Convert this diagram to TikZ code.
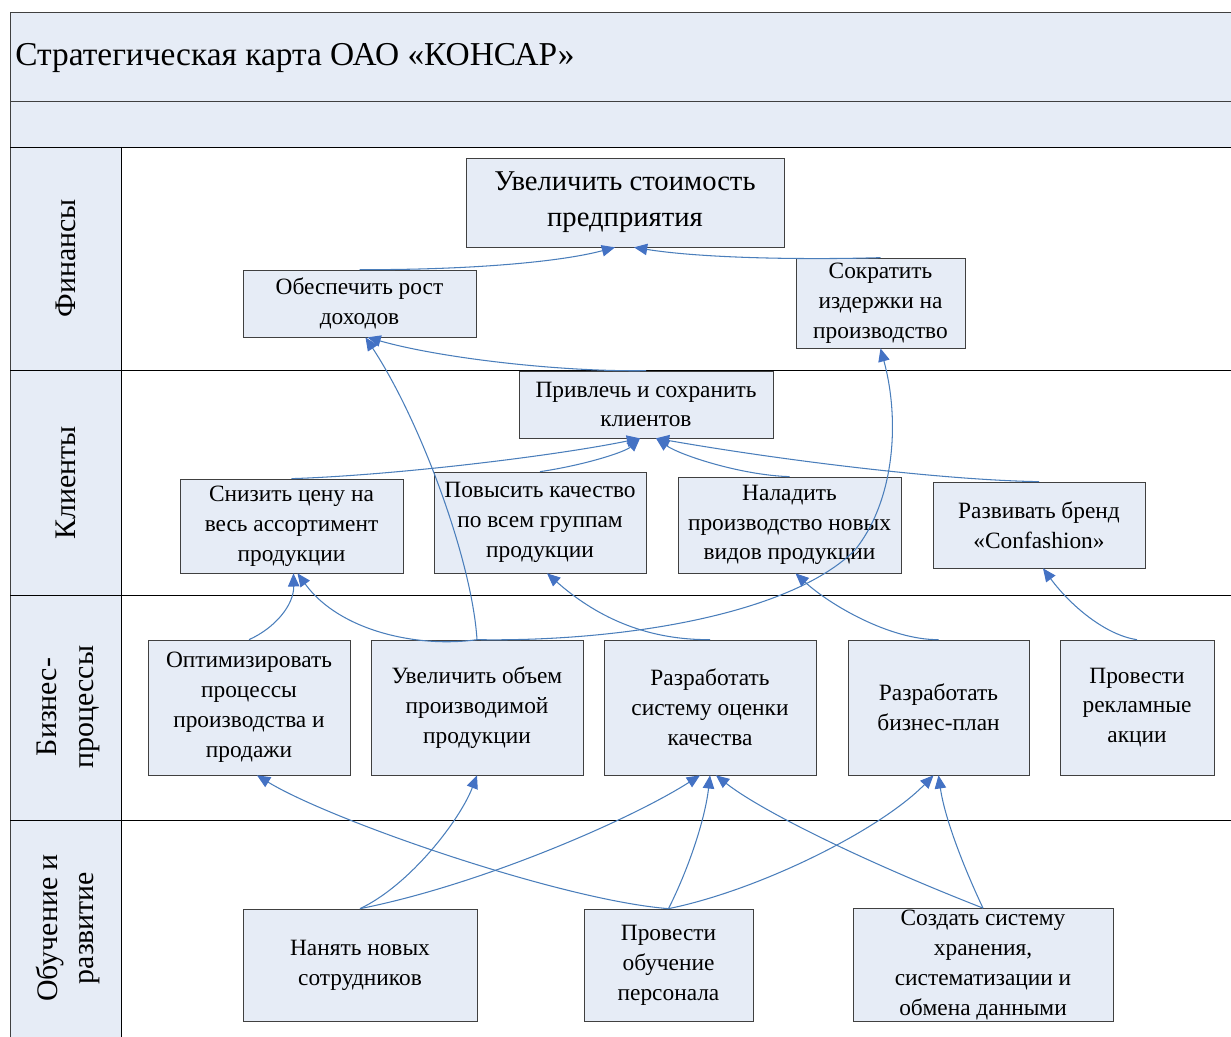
\documentclass[tikz,border=0pt]{standalone}
\usepackage{fontspec}
\setmainfont{Liberation Serif}
\usetikzlibrary{arrows.meta}

\definecolor{pale}{HTML}{E6ECF6}
\definecolor{lnblue}{HTML}{4A7EBB}
\definecolor{tipblue}{HTML}{4472C4}

\begin{document}
\begin{tikzpicture}[x=0.02cm, y=-0.02cm,
goal/.style={draw=black!75, fill=pale, align=center, inner sep=1pt, font=\fontsize{13.3}{17}\selectfont},
lane/.style={rotate=90, align=center, font=\fontsize{17}{21}\selectfont},
lnk/.style={draw=lnblue, line width=0.6pt, -{Triangle[length=7.5pt,width=6.5pt,color=tipblue]}}]
	\useasboundingbox (0,0) rectangle (1231,1037);

	% frame and lanes
	\fill[pale] (10,12) rectangle (1231,147);
	\fill[pale] (10,147) rectangle (121,1037);
	\draw[black!75] (10,1037) -- (10,12) -- (1231,12);
	\draw[black!75] (10,101) -- (1231,101);
	\draw (10,147) -- (1231,147);
	\draw (10,370) -- (1231,370);
	\draw (10,595) -- (1231,595);
	\draw (10,820) -- (1231,820);
	\draw (121,147) -- (121,1037);

	\node[anchor=west, inner sep=0, font=\fontsize{19}{23}\selectfont] (ttl) at (15,58) {Стратегическая карта ОАО «КОНСАР»};
	\node[lane] (fin) at (66,258) {Финансы};
	\node[lane] (kli) at (66,483) {Клиенты};
	\node[lane] (bp) at (68,707) {Бизнес-\\процессы};
	\node[lane] (ob) at (68,928) {Обучение и\\развитие};

	% finance
	\node[goal, minimum width=6.36cm, minimum height=1.78cm, font=\fontsize{16.3}{20.5}\selectfont] (val) at (625,202.5) {Увеличить стоимость\\предприятия};
	\node[goal, minimum width=4.66cm, minimum height=1.34cm] (inc) at (359.5,303.5) {Обеспечить рост\\доходов};
	\node[goal, minimum width=3.38cm, minimum height=1.8cm] (cost) at (880.5,303) {Сократить\\издержки на\\производство};

	% clients
	\node[goal, minimum width=5.08cm, minimum height=1.34cm] (cli) at (646,404.5) {Привлечь и сохранить\\клиентов};
	\node[goal, minimum width=4.46cm, minimum height=1.88cm] (price) at (291.5,526) {Снизить цену на\\весь ассортимент\\продукции};
	\node[goal, minimum width=4.24cm, minimum height=2.02cm] (qual) at (540,522.5) {Повысить качество\\по всем группам\\продукции};
	\node[goal, minimum width=4.46cm, minimum height=1.92cm] (newp) at (789.5,525) {Наладить\\производство новых\\видов продукции};
	\node[goal, minimum width=4.24cm, minimum height=1.72cm] (brand) at (1039,525) {Развивать бренд\\«Confashion»};

	% processes
	\node[goal, minimum width=4.04cm, minimum height=2.7cm] (opt) at (249,707.5) {Оптимизировать\\процессы\\производства и\\продажи};
	\node[goal, minimum width=4.24cm, minimum height=2.7cm] (vol) at (477,707.5) {Увеличить объем\\производимой\\продукции};
	\node[goal, minimum width=4.24cm, minimum height=2.7cm] (qsys) at (710,707.5) {Разработать\\систему оценки\\качества};
	\node[goal, minimum width=3.62cm, minimum height=2.7cm] (plan) at (938.5,707.5) {Разработать\\бизнес-план};
	\node[goal, minimum width=3.08cm, minimum height=2.7cm] (adv) at (1137,707.5) {Провести\\рекламные\\акции};

	% learning
	\node[goal, minimum width=4.68cm, minimum height=2.24cm] (hire) at (360,965) {Нанять новых\\сотрудников};
	\node[goal, minimum width=3.38cm, minimum height=2.24cm] (train) at (668.5,965) {Провести\\обучение\\персонала};
	\node[goal, minimum width=5.2cm, minimum height=2.24cm] (data) at (983,965) {Создать систему\\хранения,\\систематизации и\\обмена данными};

	% links
	\draw[lnk] (inc.north) .. controls (470,270) and (560,262) .. ([xshift=-0.2cm]val.south);
	\draw[lnk] (cost.north) .. controls (800,260) and (700,258) .. ([xshift=0.18cm]val.south);
	\draw[lnk] (cli.north) .. controls (560,372) and (440,358) .. ([xshift=0.16cm]inc.south);
	\draw[lnk] (vol.north) .. controls (472,560) and (420,420) .. ([xshift=0.12cm]inc.south);
	\draw[lnk] (vol.north) .. controls (620,642) and (790,615) .. (855,550) .. controls (895,500) and (900,420) .. (cost.south);
	\draw[lnk] (vol.north) .. controls (420,648) and (340,632) .. ([xshift=0.12cm]price.south);
	\draw[lnk] (opt.north) .. controls (275,628) and (294,605) .. ([xshift=0.04cm]price.south);
	\draw[lnk] (qsys.north) .. controls (650,640) and (600,620) .. ([xshift=0.14cm]qual.south);
	\draw[lnk] (price.north) .. controls (400,475) and (560,455) .. ([xshift=-0.12cm]cli.south);
	\draw[lnk] (qual.north) .. controls (585,465) and (625,452) .. ([xshift=-0.12cm]cli.south);
	\draw[lnk] (newp.north) .. controls (740,475) and (680,455) .. ([xshift=0.2cm]cli.south);
	\draw[lnk] (brand.north) .. controls (940,480) and (780,460) .. ([xshift=0.2cm]cli.south);
	\draw[lnk] (plan.north) .. controls (890,640) and (830,605) .. ([xshift=0.12cm]newp.south);
	\draw[lnk] (adv.north) .. controls (1105,635) and (1070,605) .. ([xshift=0.08cm]brand.south);
	\draw[lnk] (hire.north) .. controls (410,885) and (460,820) .. (vol.south);
	\draw[lnk] (hire.north) .. controls (480,885) and (630,820) .. ([xshift=-0.2cm]qsys.south);
	\draw[lnk] (train.north) .. controls (560,900) and (330,820) .. ([xshift=0.16cm]opt.south);
	\draw[lnk] (train.north) .. controls (688,870) and (705,820) .. (qsys.south);
	\draw[lnk] (train.north) .. controls (760,890) and (880,830) .. ([xshift=-0.1cm]plan.south);
	\draw[lnk] (data.north) .. controls (860,860) and (760,810) .. ([xshift=0.12cm]qsys.south);
	\draw[lnk] (data.north) .. controls (965,870) and (945,820) .. (plan.south);
\end{tikzpicture}
\end{document}
